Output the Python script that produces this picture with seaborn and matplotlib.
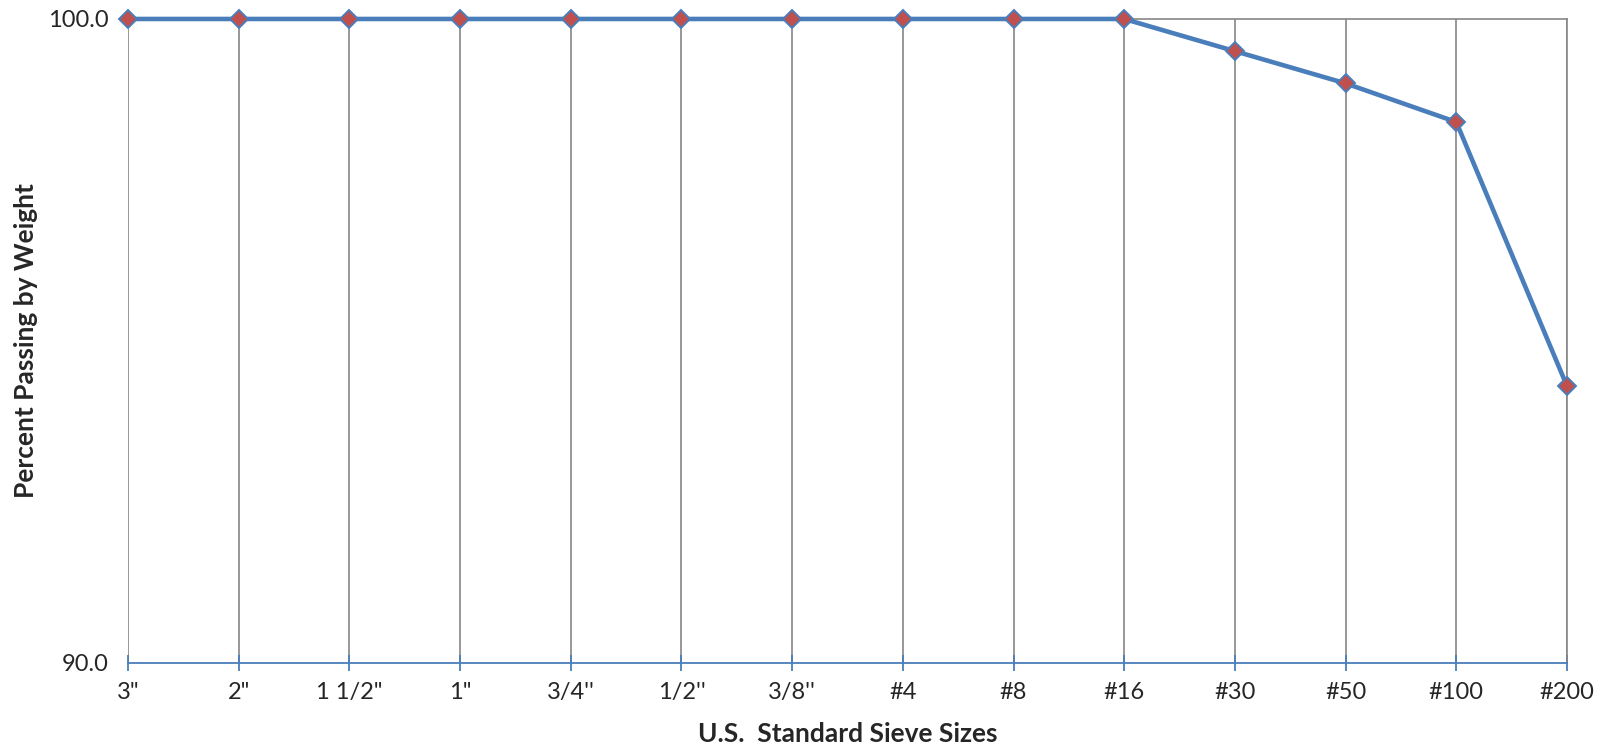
"""
Sieve analysis - gradation curve
"""

import pandas as pd
import matplotlib.pyplot as plt
import seaborn as sns

sns.set_theme(style="white")
plt.rcParams["font.family"] = ["Lato", "DejaVu Sans"]

# sieve sizes and percent passing
sieves = ['3"', '2"', '1 1/2"', '1"', "3/4''", "1/2''", "3/8''",
          "#4", "#8", "#16", "#30", "#50", "#100", "#200"]
passing = [100.0, 100.0, 100.0, 100.0, 100.0, 100.0, 100.0,
           100.0, 100.0, 100.0, 99.5, 99.0, 98.4, 94.3]
y_ticks = [90.0, 100.0]

df = pd.DataFrame({"Sieve": sieves, "Passing": passing})

LINE_BLUE = "#4A7EBB"
MARKER_RED = "#C0504D"
GRID_GRAY = "#868686"

fig = plt.figure(figsize=(16.06, 7.5), dpi=100)
ax = fig.add_axes([0.0797, 0.116, 0.896, 0.8587])

sns.lineplot(
    data=df, x="Sieve", y="Passing", sort=False, ax=ax,
    color=LINE_BLUE, linewidth=3.3,
    marker="D", markersize=9.5, markerfacecolor=MARKER_RED,
    markeredgecolor=LINE_BLUE, markeredgewidth=1.4,
    zorder=5, clip_on=False,
)

ax.set_xlim(0, len(sieves) - 1)
ax.set_ylim(90, 100)
ax.set_yticks(y_ticks)
ax.set_yticklabels([f"{v:.1f}" for v in y_ticks])

ax.grid(axis="x", color=GRID_GRAY, linewidth=1.2)
ax.grid(axis="y", visible=False)
ax.set_axisbelow(True)

for side in ["top", "right"]:
    ax.spines[side].set_color(GRID_GRAY)
    ax.spines[side].set_linewidth(1.2)
ax.spines["left"].set_visible(False)
ax.spines["bottom"].set_color(LINE_BLUE)
ax.spines["bottom"].set_linewidth(1.3)
ax.spines["bottom"].set_zorder(4)

ax.tick_params(axis="x", direction="inout", length=12, width=1.3,
               color=LINE_BLUE, pad=8, labelsize=17, bottom=True)
ax.tick_params(axis="y", length=0, pad=14, labelsize=17)

ax.set_xlabel("U.S.  Standard Sieve Sizes", fontsize=19, fontweight="bold",
              va="center")
ax.set_ylabel("Percent Passing by Weight", fontsize=19, fontweight="bold",
              va="center")
ax.xaxis.set_label_coords(0.5, -0.11)
ax.yaxis.set_label_coords(-0.0712, 0.5)

fig.savefig("out.png", dpi=100)
plt.close(fig)
